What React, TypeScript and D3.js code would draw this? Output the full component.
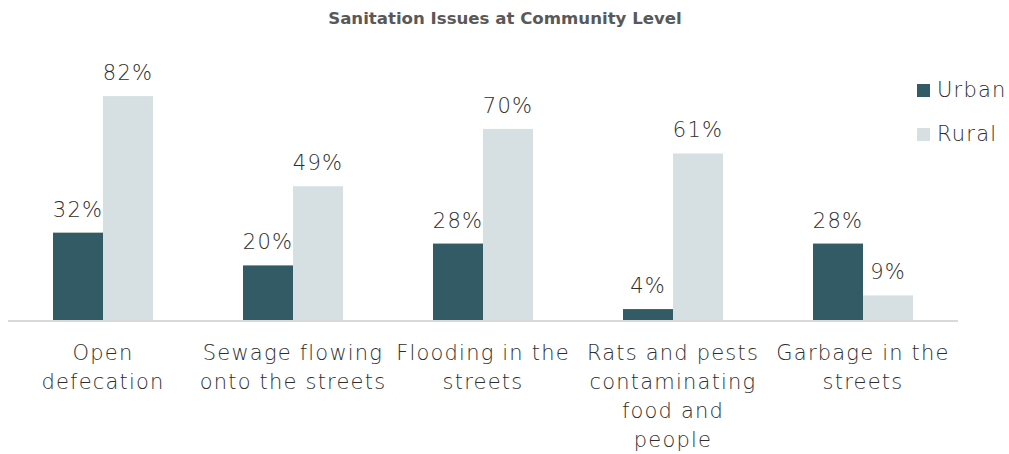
import React from "react";
import * as d3 from "d3";

const categories: string[][] = [
  ["Open", "defecation"],
  ["Sewage flowing", "onto the streets"],
  ["Flooding in the", "streets"],
  ["Rats and pests", "contaminating", "food and", "people"],
  ["Garbage in the", "streets"],
];
const categoryKeys = ["open", "sewage", "flooding", "rats", "garbage"];
const urban = [32, 20, 28, 4, 28];
const rural = [82, 49, 70, 61, 9];
const seriesNames = ["Urban", "Rural"];
const colors = ["#335b65", "#d6dfe1"];
const title = "Sanitation Issues at Community Level";

const W = 1009;
const H = 454;
const FONT = "'DejaVu Sans', sans-serif";
const TXT = "#2e2e2e";

export default function App() {
  const x0 = d3.scaleBand<string>().domain(categoryKeys).range([8, 958]).paddingInner(0).paddingOuter(0);
  const groupW = 100;
  const x1 = d3.scaleBand<string>().domain(seriesNames).range([0, groupW]);
  const y = d3.scaleLinear().domain([0, 100]).range([320, 320 - 273]);
  const series = [urban, rural];
  const textProps = { fontFamily: FONT, fontWeight: 200, fontSize: 21, fill: TXT, letterSpacing: 1.2 } as const;

  return (
    <svg width={W} height={H} style={{ position: "absolute", left: 0, top: 0, background: "#fff" }}>
      <text x={505} y={24} textAnchor="middle" fontFamily={FONT} fontWeight={700} fontSize={16.6} fill="#595959">
        {title}
      </text>
      {categoryKeys.map((k, i) => {
        const gx = (x0(k) as number) + (x0.bandwidth() - groupW) / 2;
        return (
          <g key={k}>
            {series.map((vals, s) => {
              const bx = gx + (x1(seriesNames[s]) as number);
              const v = vals[i];
              return (
                <g key={s}>
                  <rect x={bx} y={y(v)} width={x1.bandwidth()} height={y(0) - y(v)} fill={colors[s]} />
                  <text x={bx + x1.bandwidth() / 2} y={y(v) - 16} textAnchor="middle" {...textProps}>
                    {v}%
                  </text>
                </g>
              );
            })}
            {categories[i].map((line, j) => (
              <text key={j} x={(x0(k) as number) + x0.bandwidth() / 2} y={360 + j * 29} textAnchor="middle" {...textProps}>
                {line}
              </text>
            ))}
          </g>
        );
      })}
      <line x1={8} x2={958} y1={y(0) + 1} y2={y(0) + 1} stroke="#d9d9d9" strokeWidth={2} />
      {seriesNames.map((n, s) => (
        <g key={n}>
          <rect x={917} y={84 + s * 44} width={13} height={13} fill={colors[s]} />
          <text x={937} y={97 + s * 44} {...textProps}>
            {n}
          </text>
        </g>
      ))}
    </svg>
  );
}
